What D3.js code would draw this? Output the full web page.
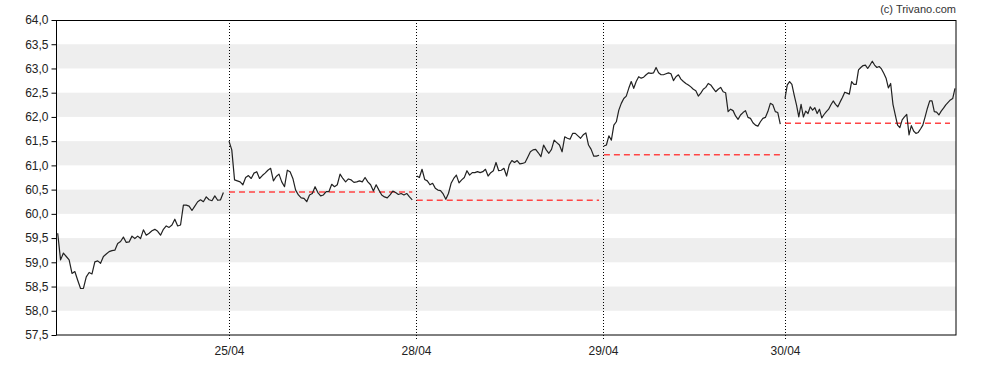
<!DOCTYPE html>
<html>
<head>
<meta charset="utf-8">
<script src="https://cdn.jsdelivr.net/npm/d3@7/dist/d3.min.js"></script>
<style>
	body { margin: 0; background: #fff; }
	svg { display: block; font-family: "Liberation Sans", Arial, sans-serif; }
</style>
</head>
<body>
<svg id="chart"></svg>
<script>
/*
 * Intraday price chart, five sessions
 */

// session labels, index 0 is the (partial) first session on the left
var dayLabels = ['24/04', '25/04', '28/04', '29/04', '30/04'];

// previous close, drawn as red dashed reference per session
var prevClose = [null, 60.45, 60.28, 61.22, 61.87];

// part of each session covered by the prices (fraction of a session)
var dayFrom = [0.084, 0.0, 0.004, 0.005, 0.0];
var dayTo = [0.970, 0.980, 0.979, 0.974, 0.909];

var day1 = [59.60, 59.05, 59.19, 59.12, 59.05, 58.77, 58.81, 58.63, 58.46, 58.46, 58.70, 58.79,
	58.76, 59.01, 59.03, 58.98, 59.12, 59.17, 59.22, 59.24, 59.25, 59.39, 59.43, 59.52, 59.41,
	59.42, 59.54, 59.49, 59.54, 59.49, 59.67, 59.56, 59.60, 59.65, 59.68, 59.64, 59.56, 59.68,
	59.75, 59.72, 59.77, 59.89, 59.75, 59.77, 60.18, 60.18, 60.16, 60.07, 60.16, 60.25, 60.29,
	60.25, 60.35, 60.29, 60.27, 60.37, 60.28, 60.29, 60.44];

var day2 = [61.50, 61.32, 60.70, 60.68, 60.66, 60.60, 60.75, 60.79, 60.73, 60.84, 60.87, 60.73,
	60.79, 60.84, 60.90, 60.94, 60.68, 60.77, 60.82, 60.66, 60.56, 60.90, 60.87, 60.73, 60.49,
	60.39, 60.33, 60.32, 60.25, 60.39, 60.42, 60.56, 60.44, 60.37, 60.39, 60.46, 60.46, 60.61,
	60.56, 60.60, 60.82, 60.73, 60.66, 60.72, 60.70, 60.65, 60.66, 60.68, 60.66, 60.75, 60.66,
	60.60, 60.47, 60.60, 60.49, 60.39, 60.35, 60.33, 60.39, 60.47, 60.44, 60.40, 60.42, 60.39,
	60.42, 60.35, 60.29];

var day3 = [60.78, 60.75, 60.92, 60.71, 60.68, 60.60, 60.63, 60.53, 60.49, 60.48, 60.41, 60.30,
	60.42, 60.63, 60.73, 60.80, 60.64, 60.70, 60.75, 60.89, 60.80, 60.85, 60.85, 60.87, 60.85,
	60.87, 60.92, 60.78, 60.85, 60.89, 61.06, 60.89, 60.90, 60.94, 60.78, 61.01, 61.10, 61.06,
	61.10, 61.03, 61.04, 61.06, 61.17, 61.28, 61.32, 61.33, 61.26, 61.18, 61.42, 61.32, 61.25,
	61.33, 61.52, 61.47, 61.42, 61.28, 61.59, 61.56, 61.54, 61.66, 61.66, 61.61, 61.56, 61.63,
	61.67, 61.42, 61.33, 61.19, 61.19, 61.21];

var day4 = [61.40, 61.42, 61.61, 61.52, 61.83, 61.90, 62.14, 62.28, 62.38, 62.43, 62.59, 62.73,
	62.59, 62.73, 62.83, 62.80, 62.82, 62.87, 62.91, 62.90, 62.91, 63.02, 62.91, 62.87, 62.87,
	62.89, 62.91, 62.89, 62.75, 62.83, 62.87, 62.78, 62.73, 62.69, 62.66, 62.62, 62.57, 62.54,
	62.43, 62.49, 62.57, 62.61, 62.69, 62.66, 62.59, 62.52, 62.57, 62.61, 62.52, 62.50, 62.11,
	62.16, 62.13, 62.02, 61.95, 62.04, 62.09, 62.13, 61.99, 61.97, 61.88, 61.83, 61.81, 61.90,
	61.97, 61.99, 62.11, 62.28, 62.25, 62.11, 62.09, 61.85];

var day5 = [62.38, 62.66, 62.73, 62.67, 62.45, 62.25, 62.00, 62.26, 62.00, 62.12, 62.07, 62.21,
	62.14, 62.19, 62.07, 62.16, 61.98, 62.05, 62.11, 62.16, 62.25, 62.33, 62.26, 62.21, 62.31,
	62.40, 62.51, 62.49, 62.47, 62.73, 62.67, 62.67, 62.97, 63.02, 63.06, 63.07, 63.00, 63.07,
	63.15, 63.07, 63.02, 63.04, 62.99, 62.90, 62.80, 62.60, 62.69, 62.26, 62.04, 61.83, 61.78,
	61.94, 62.00, 62.05, 61.63, 61.82, 61.71, 61.66, 61.68, 61.75, 61.83, 62.00, 62.18, 62.33,
	62.33, 62.11, 62.10, 62.04, 62.12, 62.18, 62.25, 62.30, 62.35, 62.38, 62.59];

var priceTicks = [57.5, 58, 58.5, 59, 59.5, 60, 60.5, 61, 61.5, 62, 62.5, 63, 63.5, 64];

var days = [day1, day2, day3, day4, day5];

var width = 988;
var height = 370;
var margin = {top: 20, right: 32, bottom: 35, left: 56};

// pixel width each session gets on the axis (first and last are cut by the view)
var sessionWidths = [173, 187, 187, 182, 171];

var svg = d3.select('#chart')
	.attr('width', width)
	.attr('height', height);

var edgesT = [1 - sessionWidths[0] / 187, 1, 2, 3, 4, 4 + sessionWidths[4] / 187];
var edgesPx = [margin.left];
sessionWidths.forEach(function (w) {
	edgesPx.push(edgesPx[edgesPx.length - 1] + w);
});

var x = d3.scaleLinear()
	.domain(edgesT)
	.range(edgesPx);

var y = d3.scaleLinear()
	.domain([57.5, 64])
	.range([height - margin.bottom, margin.top]);

var comma = d3.formatLocale({decimal: ',', thousands: '.', grouping: [3], currency: ['', '']}).format('.1f');

var plotLeft = margin.left;
var plotRight = width - margin.right;

// alternating grey bands, every whole number to the next half
var bands = priceTicks.filter(function (t) {
	return t % 1 === 0 && t < 64;
});

svg.append('g')
	.selectAll('rect')
	.data(bands)
	.enter()
	.append('rect')
	.attr('x', plotLeft)
	.attr('width', plotRight - plotLeft)
	.attr('y', function (d) { return y(d + 0.5); })
	.attr('height', function (d) { return y(d) - y(d + 0.5); })
	.style('fill', '#eeeeee');

// session separators, dotted, running a little below the axis as ticks
var sessionTicks = d3.range(1, dayLabels.length);

svg.append('g')
	.selectAll('line')
	.data(sessionTicks)
	.enter()
	.append('line')
	.attr('x1', function (d) { return Math.round(x(d)) + 0.5; })
	.attr('x2', function (d) { return Math.round(x(d)) + 0.5; })
	.attr('y1', margin.top)
	.attr('y2', height - margin.bottom + 5)
	.style('stroke', '#000')
	.style('stroke-width', 1)
	.style('stroke-dasharray', '1,2');

var pointT = function (dayIdx, i, n) {
	return dayIdx + dayFrom[dayIdx] + i * (dayTo[dayIdx] - dayFrom[dayIdx]) / (n - 1);
};

// previous close references
svg.append('g')
	.selectAll('line')
	.data(d3.range(1, days.length))
	.enter()
	.append('line')
	.attr('x1', function (d) { return x(d + dayFrom[d]); })
	.attr('x2', function (d) { return x(d + dayTo[d]) - (d === 4 ? 5 : 0); })
	.attr('y1', function (d) { return y(prevClose[d]); })
	.attr('y2', function (d) { return y(prevClose[d]); })
	.style('stroke', '#f44')
	.style('stroke-width', 1.4)
	.style('stroke-dasharray', '6,4');

var line = d3.line()
	.x(function (d) { return x(d.t); })
	.y(function (d) { return y(d.v); });

svg.append('g')
	.selectAll('path')
	.data(days.map(function (vals, k) {
		return vals.map(function (v, i) {
			return {t: pointT(k, i, vals.length), v: v};
		});
	}))
	.enter()
	.append('path')
	.attr('d', line)
	.style('fill', 'none')
	.style('stroke', '#222')
	.style('stroke-width', 1.2)
	.style('stroke-linejoin', 'round');

// frame
svg.append('rect')
	.attr('x', plotLeft + 0.5)
	.attr('y', margin.top + 0.5)
	.attr('width', plotRight - plotLeft - 0.5)
	.attr('height', height - margin.bottom - margin.top - 0.5)
	.style('fill', 'none')
	.style('stroke', '#000')
	.style('stroke-width', 1);

var yAxis = svg.append('g')
	.attr('transform', 'translate(' + (plotLeft + 0.5) + ',0)')
	.call(d3.axisLeft(y)
		.tickValues(priceTicks)
		.tickFormat(comma)
		.tickSize(5)
		.tickSizeOuter(0)
		.tickPadding(3));
yAxis.select('.domain').remove();
yAxis.selectAll('text')
	.style('font-size', '12px')
	.style('fill', '#222');

var xAxis = svg.append('g')
	.attr('transform', 'translate(0,' + (height - margin.bottom) + ')')
	.call(d3.axisBottom(x)
		.tickValues(sessionTicks)
		.tickFormat(function (d) { return dayLabels[d]; })
		.tickSize(5)
		.tickPadding(6));
xAxis.select('.domain').remove();
xAxis.selectAll('line').remove();
xAxis.selectAll('text')
	.style('font-size', '12px')
	.style('fill', '#222');

svg.append('text')
	.attr('x', plotRight)
	.attr('y', 13)
	.attr('text-anchor', 'end')
	.style('font-size', '11px')
	.style('fill', '#333')
	.text('(c) Trivano.com');
</script>
</body>
</html>
